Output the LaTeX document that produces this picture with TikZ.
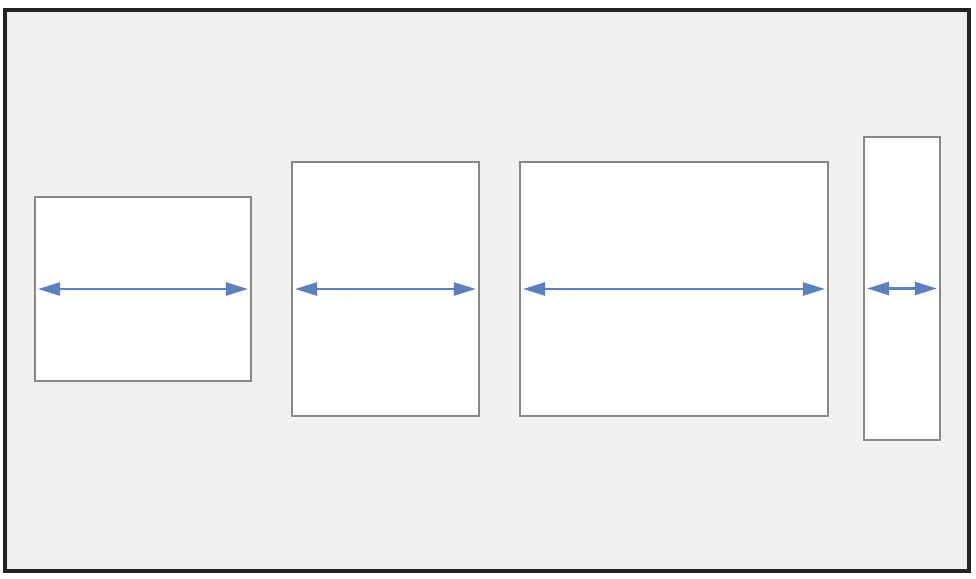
\documentclass[tikz,border=0pt]{standalone}
\usepackage{xcolor}
\usetikzlibrary{arrows.meta}
\definecolor{framebg}{HTML}{F0F0F0}
\definecolor{framedark}{HTML}{222222}
\definecolor{boxgray}{HTML}{888888}
\definecolor{arrowblue}{HTML}{5B7FBF}
\tikzset{
  panel/.style={draw=boxgray, line width=1.8pt, fill=white, inner sep=0pt},
  span/.style={arrowblue, line width=2.6pt, {Triangle[length=22pt,width=13pt]}-{Triangle[length=22pt,width=13pt]}}
}
\begin{document}
\begin{tikzpicture}[x=1pt, y=-1pt]
			\useasboundingbox (0,0) rectangle (976,578);
			\draw[framedark, fill=framebg, line width=4pt] (5,10) rectangle (969,571);
			\node[panel, minimum width=216pt, minimum height=184pt] (a) at (143,289) {};
			\node[panel, minimum width=187pt, minimum height=254pt] (b) at (385.5,289) {};
			\node[panel, minimum width=308pt, minimum height=254pt] (c) at (674,289) {};
			\node[panel, minimum width=76pt, minimum height=303pt] (d) at (902,288.5) {};
			\foreach \n in {a,b,c,d}
				\draw[span] ([xshift=4pt]\n.west) -- ([xshift=-4pt]\n.east);
		\end{tikzpicture}
\end{document}
